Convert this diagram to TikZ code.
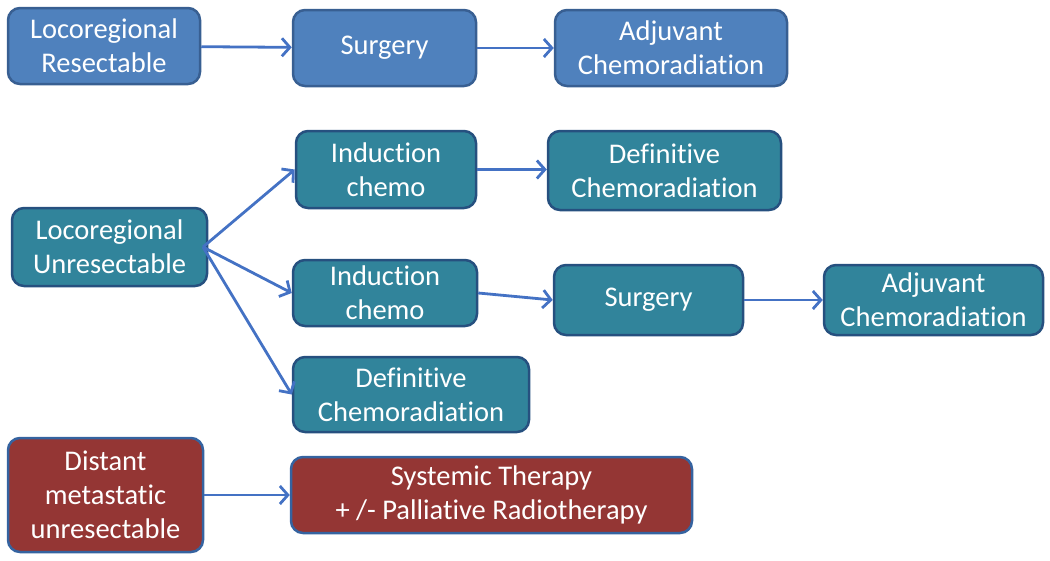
\documentclass[tikz,border=0pt]{standalone}
\usepackage{fontspec}
\setmainfont{Carlito}[Ligatures=NoCommon]
\usetikzlibrary{arrows.meta}
\definecolor{bfill}{HTML}{4F81BD}
\definecolor{bdraw}{HTML}{385F92}
\definecolor{tfill}{HTML}{31849B}
\definecolor{tdraw}{HTML}{26507F}
\definecolor{rfill}{HTML}{943634}
\definecolor{rdraw}{HTML}{3563A0}
\definecolor{arr}{HTML}{4472C4}
\tikzset{
  x=1pt, y=-1pt,
  box/.style={rectangle, rounded corners=12pt, line width=2.5pt, align=center,
    text=white, inner sep=0pt, font=\fontsize{28.5}{34}\selectfont},
  bluebox/.style={box, fill=bfill, draw=bdraw},
  tealbox/.style={box, fill=tfill, draw=tdraw},
  redbox/.style={box, fill=rfill, draw=rdraw},
  conn/.style={draw=arr, line width=2.8pt, -{Straight Barb[length=8pt,width=18pt,line width=2.8pt]}},
}
\begin{document}
\begin{tikzpicture}
\useasboundingbox (0,0) rectangle (1050,560);
% row 1
\node[bluebox, minimum width=192pt, minimum height=76pt] (lr) at (104,46) {Locoregional\\Resectable};
\node[bluebox, minimum width=183pt, minimum height=76pt] (s1) at (384.5,48) {Surgery};
\node[bluebox, minimum width=232pt, minimum height=76pt] (a1) at (671,48) {Adjuvant\\Chemoradiation};
% row 2
\node[tealbox, minimum width=180pt, minimum height=77pt] (it) at (386,169.5) {Induction\\chemo};
\node[tealbox, minimum width=233pt, minimum height=79pt] (dt) at (664.5,170.5) {Definitive\\Chemoradiation};
\node[tealbox, minimum width=195pt, minimum height=78pt] (lu) at (109.5,247) {Locoregional\\Unresectable};
\node[tealbox, minimum width=184pt, minimum height=66pt] (im) at (385,293) {Induction\\chemo};
\node[tealbox, minimum width=189pt, minimum height=70pt] (sm) at (648.5,300) {Surgery};
\node[tealbox, minimum width=219pt, minimum height=70pt] (am) at (933.5,300) {Adjuvant\\Chemoradiation};
\node[tealbox, minimum width=236pt, minimum height=75pt] (db) at (411,394.5) {Definitive\\Chemoradiation};
% row 3
\node[redbox, minimum width=195pt, minimum height=114pt] (dm) at (105.5,495) {Distant\\metastatic\\unresectable};
\node[redbox, minimum width=401pt, minimum height=76pt] (st) at (491.5,495) {Systemic Therapy\\+ /- Palliative Radiotherapy};
% connectors
\coordinate (lus) at (203,247);
\draw[conn] (lr) -- (s1);
\draw[conn] (s1) -- (a1);
\draw[conn] (lus) -- (it.west);
\draw[conn] (lus) -- (im.west);
\draw[conn] (lus) -- (db.west);
\draw[conn] (it.east) -- (it.east -| dt.west);
\draw[conn] (im.east) -- (sm.west);
\draw[conn] (sm) -- (am);
\draw[conn] (dm) -- (st);
\end{tikzpicture}
\end{document}
